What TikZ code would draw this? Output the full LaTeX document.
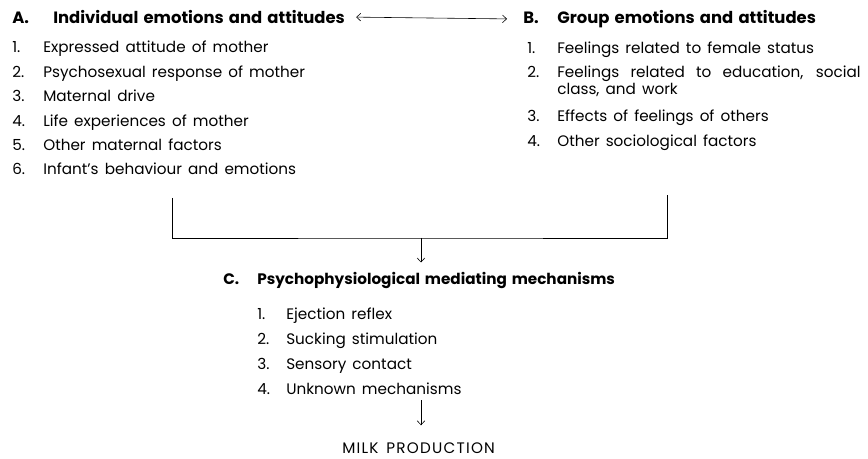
\documentclass[tikz,border=0pt]{standalone}
\usepackage{fontspec}
\setmainfont{Poppins}[WordSpace=1.5]
\usetikzlibrary{arrows.meta}
\tikzset{
  >={Straight Barb[length=3.5pt,width=6.5pt]},
  head/.style={anchor=base west, inner sep=0pt, font=\bfseries\fontsize{14}{16}\selectfont},
  entry/.style={anchor=base west, inner sep=0pt, font=\fontsize{13}{14.5}\selectfont},
}
\begin{document}
\begin{tikzpicture}[x=0.03cm, y=-0.03cm, line width=0.5pt]
\useasboundingbox (0,0) rectangle (868,459);
% headings
\node[head] (hA) at (12,23.5) {\makebox[1.23cm][l]{A.}Individual emotions and attitudes};
\node[head] (hB) at (523,23.5) {\makebox[1.02cm][l]{B.}Group emotions and attitudes};
\node[head, font=\bfseries\fontsize{13}{15}\selectfont] (hC) at (223,285)
  {\makebox[1.02cm][l]{C.}Psychophysiological mediating mechanisms};
\node[entry] (milk) at (342,453) {\addfontfeatures{LetterSpace=8}MILK PRODUCTION};
\draw[<->, shorten <=0.33cm, shorten >=0.48cm] (hA.east) -- (hB.west);

% list A
\foreach \t [count=\i] in {Expressed attitude of mother, Psychosexual response of mother,
    Maternal drive, Life experiences of mother, Other maternal factors,
    Infant's behaviour and emotions} {
  \node[entry] (an\i) at (12,28.6+24.4*\i) {\i.};
  \node[entry] (a\i) at (43,28.6+24.4*\i) {\t};
}

% list B
\node[entry] (bn1) at (527,54) {1.};
\node[entry] (b1) at (557,54) {Feelings related to female status};
\node[entry] (bn2) at (527,78) {2.};
\node[entry, anchor=north west, text width=9.1cm, align=justify] (b2) at (557,66)
  {Feelings related to education, social class, and work};
\node[entry] (bn3) at (527,122) {3.};
\node[entry] (b3) at (557,122) {Effects of feelings of others};
\node[entry] (bn4) at (527,147) {4.};
\node[entry] (b4) at (557,147) {Other sociological factors};

% list C
\foreach \t [count=\i] in {Ejection reflex, Sucking stimulation, Sensory contact,
    Unknown mechanisms} {
  \node[entry] (cn\i) at (257,295+25*\i) {\i.};
  \node[entry] (c\i) at (286,295+25*\i) {\t};
}

% joining lines
\coordinate (aend) at (172,198);
\coordinate (bend) at (667,195);
\coordinate (join) at (421,238);
\draw (aend) |- (join) -| (bend);
\draw[->, shorten >=0.3cm] (join) -- (join |- hC.north);
\draw[->, shorten <=0.15cm, shorten >=0.5cm] (c4.south -| join) -- (join |- milk.north);
\end{tikzpicture}
\end{document}
